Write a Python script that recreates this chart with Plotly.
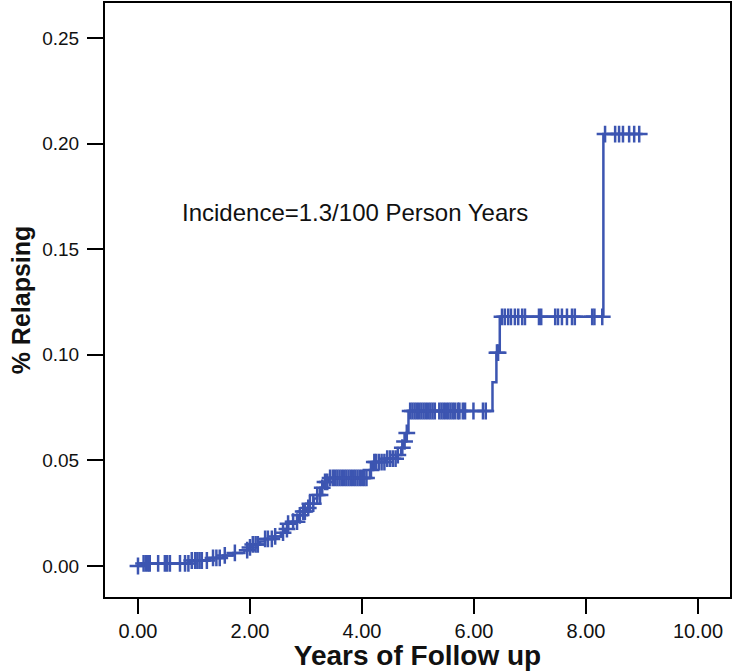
import numpy as np
import plotly.graph_objects as go

# Kaplan-Meier style cumulative relapse: event times and cumulative proportion after each event
event_years = [0.08, 0.93, 1.28, 1.52, 1.70, 1.90, 1.98, 2.05, 2.18, 2.27, 2.40, 2.55, 2.62,
               2.68, 2.76, 2.86, 2.94, 3.02, 3.06, 3.14, 3.20, 3.26, 3.31, 3.40, 4.14, 4.20,
               4.42, 4.62, 4.70, 4.75, 4.79, 4.83, 6.33, 6.40, 6.46, 8.31]
cum_relapse = [0.0012, 0.0026, 0.0038, 0.0050, 0.0062, 0.0075, 0.0088, 0.0102, 0.0116, 0.0128,
               0.0140, 0.0158, 0.0175, 0.0200, 0.0210, 0.0240, 0.0258, 0.0275, 0.0295, 0.0320,
               0.0336, 0.0370, 0.0398, 0.0417, 0.0455, 0.0492, 0.0508, 0.0525, 0.0560, 0.0590,
               0.0630, 0.0734, 0.0870, 0.1010, 0.1180, 0.2045]

# censored follow-up times
censor_years = [0.00, 0.10, 0.14, 0.18, 0.21, 0.36, 0.48, 0.52, 0.57, 0.75, 0.84, 0.90, 0.96,
                1.02, 1.06, 1.10, 1.14, 1.23, 1.34, 1.40, 1.46, 1.55, 1.73, 1.95, 2.00, 2.05,
                2.10, 2.14, 2.27, 2.32, 2.39, 2.45, 2.59, 2.66, 2.68, 2.77, 2.84, 2.89, 2.95,
                2.98, 3.04, 3.07, 3.13, 3.20, 3.25, 3.29, 3.34, 3.38, 3.43,
                3.48, 3.52, 3.56, 3.60, 3.64, 3.68, 3.72, 3.76, 3.80, 3.84, 3.88, 3.92, 3.96,
                4.00, 4.04, 4.08, 4.16, 4.22, 4.25, 4.30, 4.35, 4.40, 4.45, 4.50, 4.55, 4.60,
                4.64, 4.72, 4.76, 4.80,
                4.86, 4.90, 4.94, 4.98, 5.02, 5.06, 5.10, 5.14, 5.18, 5.22, 5.26, 5.30,
                5.38, 5.42, 5.46, 5.50, 5.54, 5.58, 5.62, 5.66, 5.71, 5.74, 5.80, 5.84,
                5.99, 6.16, 6.21, 6.41, 6.43,
                6.50, 6.55, 6.61, 6.66, 6.73, 6.79, 6.86, 6.91, 7.16, 7.20, 7.45, 7.50, 7.57,
                7.66, 7.75, 7.80, 8.11, 8.15, 8.29,
                8.34, 8.52, 8.59, 8.66, 8.77, 8.86, 8.95]

x_ticks = [0, 2, 4, 6, 8, 10]
x_tick_text = ["0.00", "2.00", "4.00", "6.00", "8.00", "10.00"]
y_ticks = [0.0, 0.05, 0.10, 0.15, 0.20, 0.25]
y_tick_text = ["0.00", "0.05", "0.10", "0.15", "0.20", "0.25"]

color = "#3C55B1"

levels = [0.0] + cum_relapse
line_x = [0.0] + event_years + [max(censor_years)]
line_y = levels + [levels[-1]]
idx = np.searchsorted(np.array(event_years), np.array(censor_years), side="right")
censor_y = [levels[i] for i in idx]

fig = go.Figure()
fig.add_trace(go.Scatter(x=line_x, y=line_y, mode="lines", line=dict(color=color, width=2.5, shape="hv"),
                         hoverinfo="skip", showlegend=False))
fig.add_trace(go.Scatter(x=censor_years, y=censor_y, mode="markers",
                         marker=dict(symbol="cross-thin", size=12, line=dict(color=color, width=2.5)),
                         showlegend=False))

fig.add_annotation(x=0.75, y=0.1676, xref="x", yref="y", xanchor="left", yanchor="middle",
                   text="Incidence=1.3/100 Person Years", showarrow=False,
                   font=dict(family="Liberation Sans, Arial", size=24, color="#111111"))

fig.update_xaxes(range=[-0.589, 10.571], tickmode="array", tickvals=x_ticks, ticktext=x_tick_text,
                 ticks="outside", ticklen=15, tickwidth=2, tickcolor="black",
                 showline=True, linecolor="black", linewidth=2, mirror=True,
                 showgrid=False, zeroline=False,
                 tickfont=dict(family="Liberation Sans, Arial", size=20, color="#111111"),
                 title=dict(text="<b>Years of Follow up</b>", standoff=8,
                            font=dict(family="Liberation Sans, Arial", size=28, color="#111111")))
fig.update_yaxes(range=[-0.01468, 0.26657], tickmode="array", tickvals=y_ticks, ticktext=y_tick_text,
                 ticks="outside", ticklen=16, tickwidth=2, tickcolor="black",
                 ticklabelstandoff=4,
                 showline=True, linecolor="black", linewidth=2, mirror=True,
                 showgrid=False, zeroline=False,
                 tickfont=dict(family="Liberation Sans, Arial", size=19, color="#111111"),
                 title=dict(text="<b>% Relapsing</b>", standoff=4,
                            font=dict(family="Liberation Sans, Arial", size=25, color="#111111")))

fig.update_layout(width=732, height=671, margin=dict(l=105, r=2, t=3, b=74, autoexpand=False),
                  plot_bgcolor="white", paper_bgcolor="white")

fig.write_html("out.html", config={"displayModeBar": False},
               post_script="document.body.style.margin='0';document.body.style.overflow='hidden';")
